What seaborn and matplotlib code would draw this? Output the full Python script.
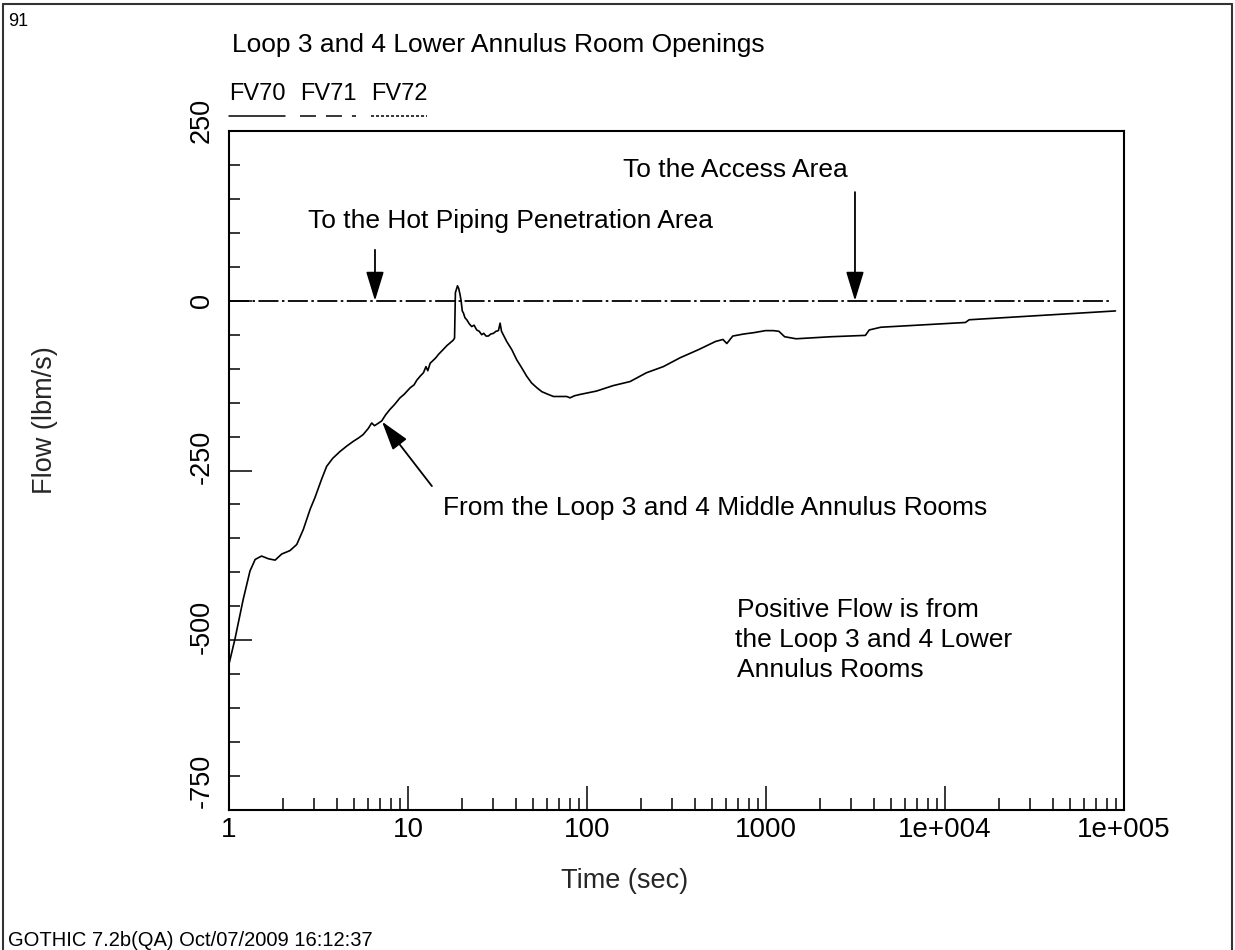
import matplotlib
matplotlib.use("Agg")
import matplotlib.pyplot as plt
import seaborn as sns
import pandas as pd
from matplotlib.lines import Line2D
from matplotlib.ticker import FixedLocator, FixedFormatter, LogLocator, MultipleLocator, NullFormatter
import matplotlib.transforms as mtransforms

# ---------------- data ----------------
fv70_time = [1.00, 1.08, 1.20, 1.31, 1.40, 1.52, 1.66, 1.81, 1.97, 2.19, 2.39, 2.60, 2.84,
             3.02, 3.30, 3.51, 3.80, 4.17, 4.55, 4.95, 5.30, 5.62, 6.00, 6.27, 6.50, 6.68,
             7.13, 7.50, 7.93, 8.40, 9.02, 9.50, 10.3, 10.8, 11.2, 11.7, 12.2, 12.6, 12.9,
             13.3, 13.8, 14.3, 14.8, 15.7, 16.5, 17.2, 17.9, 18.2, 18.4, 18.9, 19.2, 19.5,
             19.8, 20.1, 20.4, 20.8, 21.3, 22.0, 22.7, 23.4, 24.2, 25.0, 25.8, 26.5, 27.3,
             28.1, 29.0, 30.0, 31.0, 32.0, 32.7, 33.3, 35.6, 38.0, 40.5, 43.0, 46.0, 49.0,
             52.4, 56.0, 60.8, 65.0, 72.0, 77.0, 80.4, 85.0, 91.4, 113, 140, 174, 215, 267,
             331, 420, 522, 575, 604, 652, 750, 855, 993, 1100, 1180, 1271, 1472, 2302,
             3592, 3774, 4380, 13000, 13650, 89600]
fv70_flow = [-535, -498, -440, -398, -381, -376, -380, -382, -373, -368, -359, -337, -307,
             -290, -262, -244, -232, -222, -214, -207, -202, -197, -188, -180, -184, -182,
             -177, -168, -160, -153, -143, -138, -128, -124, -117, -111, -106, -97, -103,
             -92, -88, -84, -79, -72, -66, -62, -58, -55, 12, 22, 18, 10,
             0, -15, -18, -25, -28, -34, -38, -36, -43, -45, -50, -48, -52,
             -52, -49, -48, -45, -44, -33, -45, -60, -72, -87, -98, -111, -121,
             -128, -134, -138, -141, -141, -141, -143, -140, -138, -133, -125, -119, -106, -97,
             -84, -72, -60, -57, -63, -52, -49, -47, -44, -44, -45, -53, -56, -53,
             -51, -43, -39, -32, -28, -15]
fv71_time = [1.0, 84600.0]
fv71_flow = [0.0, 0.0]
series_names = ["FV70", "FV71", "FV72"]

x_ticks = [1, 10, 100, 1000, 1e4, 1e5]
x_tick_labels = ["1", "10", "100", "1000", "1e+004", "1e+005"]
y_ticks = [-750, -500, -250, 0, 250]
y_tick_labels = ["-750", "-500", "-250", "0", "250"]

title = "Loop 3 and 4 Lower Annulus Room Openings"
footer = "GOTHIC 7.2b(QA) Oct/07/2009 16:12:37"
page_no = "91"

# ---------------- style ----------------
sns.set_theme(style="white")
plt.rcParams["font.family"] = ["Liberation Sans", "DejaVu Sans"]
plt.rcParams["lines.scale_dashes"] = False
plt.rcParams["axes.edgecolor"] = "black"
plt.rcParams["text.color"] = "black"

W, H = 1235, 950
fig = plt.figure(figsize=(W / 100, H / 100), dpi=100)
L, R, B, T = 229, 1124, 810, 131
ax = fig.add_axes([L / W, 1 - B / H, (R - L) / W, (B - T) / H])
ax.set_xscale("log")

df70 = pd.DataFrame({"Time": fv70_time, "Flow": fv70_flow})
df71 = pd.DataFrame({"Time": fv71_time, "Flow": fv71_flow})
sns.lineplot(data=df71, x="Time", y="Flow", ax=ax, color="black", lw=1.3,
             estimator=None, sort=False)
ax.lines[-1].set_dashes([14.4, 2.5, 1.8, 2.5])
sns.lineplot(data=df70, x="Time", y="Flow", ax=ax, color="black", lw=1.2,
             estimator=None, sort=False)

ax.set_xlim(1, 1e5)
ax.set_ylim(-750, 250)

for s in ax.spines.values():
    s.set_color("black")
    s.set_linewidth(1.5)
    s.set_visible(True)

ax.xaxis.set_major_locator(FixedLocator(x_ticks))
ax.xaxis.set_major_formatter(FixedFormatter(x_tick_labels))
ax.xaxis.set_minor_locator(LogLocator(base=10, subs=range(2, 10), numticks=20))
ax.xaxis.set_minor_formatter(NullFormatter())
ax.yaxis.set_major_locator(FixedLocator(y_ticks))
ax.yaxis.set_major_formatter(FixedFormatter(y_tick_labels))
ax.yaxis.set_minor_locator(MultipleLocator(50))

ax.tick_params(which="both", direction="in", colors="black", width=1.1,
               bottom=True, left=True, top=False, right=False)
ax.tick_params(which="major", axis="x", length=17, labelsize=20, pad=5)
ax.tick_params(which="minor", axis="x", length=8.6)
ax.tick_params(which="major", axis="y", length=16.5, labelsize=19.5, pad=10)
ax.tick_params(which="minor", axis="y", length=8)

# y tick labels: rotated, nudged upwards as in the reference
y_label_shift_px = [29, 13, 14, 0, 11]
for lab, dy in zip(ax.get_yticklabels(), y_label_shift_px):
    lab.set_rotation(90)
    lab.set_va("center")
    lab.set_transform(lab.get_transform() +
                      mtransforms.ScaledTranslation(0, dy / 100, fig.dpi_scale_trans))

ax.set_xlabel("Time (sec)", fontsize=19.5)
ax.xaxis.set_label_coords((625 - L) / (R - L), (B - 868) / (B - T))
ax.set_ylabel("Flow (lbm/s)", fontsize=19.5)
ax.yaxis.set_label_coords((58 - L) / (R - L), (B - 420) / (B - T))

ax.set_title(title, loc="left", fontsize=19, x=(232 - L) / (R - L),
             y=(B - 60) / (B - T), va="baseline")

# ---------------- annotations ----------------
arrow = dict(arrowstyle="-|>,head_length=1.8,head_width=0.55", mutation_scale=10,
             color="black", lw=1.3, shrinkA=0, shrinkB=0)
ax.annotate("", xy=(6.54, 0), xytext=(6.54, 75), arrowprops=arrow)
ax.annotate("", xy=(3141, 0), xytext=(3141, 160), arrowprops=arrow)
ax.annotate("", xy=(7.16, -178), xytext=(13.6, -273), arrowprops=arrow)

ax.text(2.76, 107, "To the Hot Piping Penetration Area", fontsize=19, va="baseline", ha="left")
ax.text(158, 182, "To the Access Area", fontsize=19, va="baseline", ha="left")
ax.text(15.7, -315, "From the Loop 3 and 4 Middle Annulus Rooms", fontsize=19,
        va="baseline", ha="left")
ax.text(689, -466, "Positive Flow is from", fontsize=19, va="baseline", ha="left")
ax.text(670, -510, "the Loop 3 and 4 Lower", fontsize=19, va="baseline", ha="left")
ax.text(689, -554, "Annulus Rooms", fontsize=19, va="baseline", ha="left")

# ---------------- legend (names above line samples) ----------------
leg_x = [229, 300, 371]
leg_styles = [dict(ls="-"), dict(dashes=[11.5, 7.2]), dict(dashes=[2.2, 1.4])]
for name, x0, st in zip(series_names, leg_x, leg_styles):
    fig.text(x0 / W, 1 - 100 / H, name, fontsize=17, ha="left", va="baseline")
    ln = Line2D([x0 / W, (x0 + 56) / W], [1 - 116 / H, 1 - 116 / H],
                transform=fig.transFigure, color="black", lw=1.1)
    if "dashes" in st:
        ln.set_dashes(st["dashes"])
    fig.add_artist(ln)

# page number and footer
fig.text(8 / W, 1 - 13 / H, page_no, fontsize=13, ha="left", va="top")
fig.text(8 / W, 1 - 946 / H, footer, fontsize=14.5, ha="left", va="baseline")

# outer page frame
for xs, ys in [((3, 3), (4, 950)), ((3, 1232), (4, 4)), ((1232, 1232), (4, 950))]:
    fig.add_artist(Line2D([x / W for x in xs], [1 - y / H for y in ys],
                          transform=fig.transFigure, color="#333333", lw=1.5))

fig.savefig("out.png", dpi=100, facecolor="white")
